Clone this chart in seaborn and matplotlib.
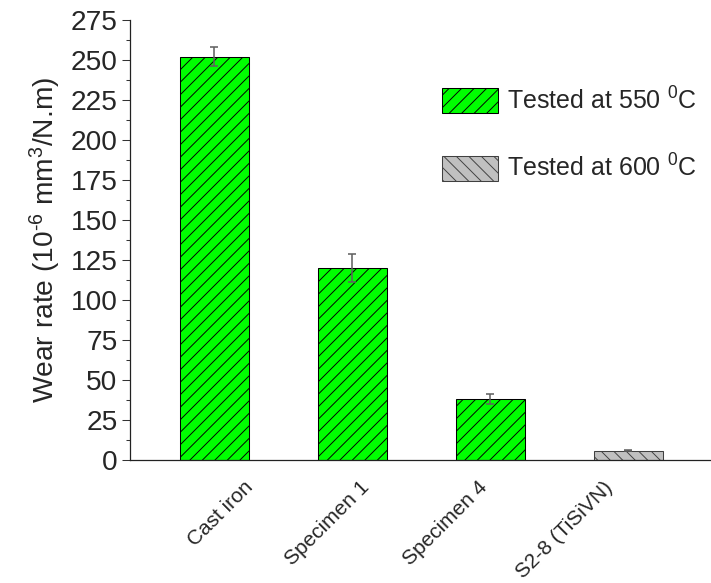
import numpy as np
import pandas as pd
import matplotlib
matplotlib.use("Agg")
import matplotlib.pyplot as plt
from matplotlib.patches import Patch
from matplotlib.transforms import ScaledTranslation
from matplotlib.ticker import MultipleLocator
import seaborn as sns

# ---- data ----
samples = ["Cast iron", "Specimen 1", "Specimen 4", "S2-8 (TiSiVN)"]
wear_rate = [252.0, 120.0, 38.0, 5.8]
wear_err = [6.0, 8.5, 3.2, 0.3]
conditions = ["Tested at 550 $^0$C", "Tested at 600 $^0$C"]
sample_condition = [conditions[0], conditions[0], conditions[0], conditions[1]]

df = pd.DataFrame({"sample": samples, "rate": wear_rate,
                   "err": wear_err, "condition": sample_condition})

# ---- style ----
sns.set_style("ticks")
plt.rcParams["font.family"] = ["Liberation Sans", "DejaVu Sans"]
plt.rcParams["mathtext.fontset"] = "custom"
plt.rcParams["mathtext.rm"] = "Liberation Sans"
plt.rcParams["mathtext.it"] = "Liberation Sans:italic"
plt.rcParams["mathtext.bf"] = "Liberation Sans:bold"
plt.rcParams["hatch.linewidth"] = 0.9

fill_colors = {conditions[0]: "#00ff00", conditions[1]: "#c0c0c0"}
edge_colors = {conditions[0]: "#000000", conditions[1]: "#404040"}
hatches = {conditions[0]: "//", conditions[1]: "\\\\"}

DPI = 75
fig = plt.figure(figsize=(711 / DPI, 583 / DPI), dpi=DPI)
ax = fig.add_axes([130 / 711, 1 - 460 / 583, 1 - 130 / 711, (460 - 20) / 583])

sns.barplot(data=df, x="sample", y="rate", hue="condition",
            palette=fill_colors, saturation=1, dodge=False, width=0.5,
            errorbar=None, legend=False, ax=ax, zorder=2)

for cont, cond in zip(ax.containers, conditions):
    for bar in cont:
        bar.set_hatch(hatches[cond])
        bar.set_edgecolor(edge_colors[cond])
        bar.set_linewidth(1.0)

ax.errorbar(np.arange(len(samples)), wear_rate, yerr=wear_err, fmt="none",
            ecolor="#606060", elinewidth=1.5, capsize=4.3, capthick=1.5,
            zorder=3)

ax.set_ylim(0, 275)
ax.set_xlim(-0.61, 3.60)
ax.yaxis.set_major_locator(MultipleLocator(25))
ax.yaxis.set_minor_locator(MultipleLocator(12.5))
ax.tick_params(axis="y", which="major", length=8, width=1.0,
               labelsize=27, pad=4, color="#333333")
ax.tick_params(axis="y", which="minor", length=4, width=1.0, color="#333333")
ax.tick_params(axis="x", which="both", length=0, labelsize=20, pad=17)

for s in ["top", "right"]:
    ax.spines[s].set_visible(False)
for s in ["left", "bottom"]:
    ax.spines[s].set_linewidth(1.2)
    ax.spines[s].set_color("#222222")

ax.set_xlabel("")
ax.set_ylabel(r"Wear rate (10$^{\text{-}6}$ mm$^3$/N.m)", fontsize=27,
              labelpad=7)

# rotated category labels
label_shift_px = [6, -25, -45, -64]
ax.set_xticks(range(len(samples)))
ax.set_xticklabels(samples, rotation=45, ha="center", va="top")
for lab, dx in zip(ax.get_xticklabels(), label_shift_px):
    lab.set_transform(lab.get_transform()
                      + ScaledTranslation(dx / DPI, 0, fig.dpi_scale_trans))

handles = [Patch(facecolor=fill_colors[c], edgecolor=edge_colors[c],
                 hatch=hatches[c], linewidth=1.0, label=c) for c in conditions]
ax.legend(handles=handles, loc="upper left",
          bbox_to_anchor=(442 / 711, 1 - 87 / 583),
          bbox_transform=fig.transFigure, frameon=False, fontsize=24,
          handlelength=2.24, handleheight=1.15, handletextpad=0.36,
          labelspacing=1.62, borderpad=0, borderaxespad=0)

fig.savefig("out.png", dpi=DPI)
